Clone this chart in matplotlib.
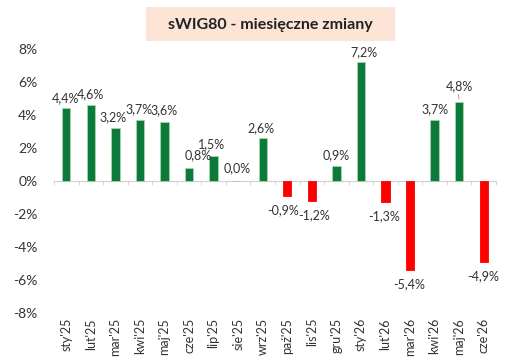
import numpy as np
import matplotlib
matplotlib.use("Agg")
import matplotlib.pyplot as plt
from matplotlib.patches import Rectangle
from matplotlib.ticker import FuncFormatter, FixedLocator

months = ["sty'25", "lut'25", "mar'25", "kwi'25", "maj'25", "cze'25", "lip'25",
          "sie'25", "wrz'25", "paź'25", "lis'25", "gru'25", "sty'26", "lut'26",
          "mar'26", "kwi'26", "maj'26", "cze'26"]
changes = [4.4, 4.6, 3.2, 3.7, 3.6, 0.8, 1.5, 0.0, 2.6, -0.9, -1.2, 0.9, 7.2,
           -1.3, -5.4, 3.7, 4.8, -4.9]
yticks = [-8, -6, -4, -2, 0, 2, 4, 6, 8]

# label nudges in pixels (dx, dy up) relative to the bar end
nudge = {0: (-1, 10), 2: (-2, 11), 3: (-1, 11), 5: (9, 13), 6: (-2, 12),
         7: (-1, 13), 8: (-2, 10), 9: (-4, -14), 10: (2, -14), 12: (3, 10),
         16: (0, 16)}

plt.rcParams['font.family'] = ['Lato', 'DejaVu Sans']

fig = plt.figure(figsize=(5.12, 3.62), dpi=100)
ax = fig.add_axes([54 / 512, 1 - 313 / 362, 442 / 512, 264 / 362])

x = np.arange(len(months))
cols = ['#0B7A3B' if v >= 0 else '#FF0000' for v in changes]
edges = ['#A9D6A9' if v >= 0 else '#FF0000' for v in changes]
ax.bar(x, changes, width=0.34, color=cols, edgecolor=edges, linewidth=0.6, zorder=3)

px = 0.72  # points per pixel
for i, v in enumerate(changes):
    txt = f"{v:.1f}%".replace('.', ',')
    default = (0, 11) if v >= 0 else (-1, -14)
    dx, dy = nudge.get(i, default)
    ax.annotate(txt, (x[i], v), xytext=(dx * px, dy * px), textcoords='offset points',
                ha='center', va='center', fontsize=9, color='#333333', zorder=4)
# leader line for maj'26
ax.annotate('', (x[16], changes[16]), xytext=(-1 * px, 10 * px), textcoords='offset points',
            arrowprops=dict(arrowstyle='-', color='#A6A6A6', lw=0.7))

ax.set_xlim(-0.5, len(months) - 0.5)
ax.set_ylim(-8, 8)
ax.set_yticks(yticks)
ax.yaxis.set_major_formatter(FuncFormatter(lambda v, p: f"{v:.0f}%"))
ax.tick_params(axis='y', length=0, pad=12, labelsize=10, labelcolor='#333333')

ax.spines['bottom'].set_position(('data', 0))
ax.spines['bottom'].set_color('#D0D0D0')
for s in ['top', 'right', 'left']:
    ax.spines[s].set_visible(False)
ax.set_xticks(x)
ax.set_xticklabels(months, rotation=90, fontsize=9, color='#333333')
ax.xaxis.set_minor_locator(FixedLocator(np.arange(-0.5, len(months), 1.0)))
ax.tick_params(axis='x', which='major', length=0, pad=137 * px)
ax.tick_params(axis='x', which='minor', length=4 * px, color='#D0D0D0', direction='out')

fig.patches.append(Rectangle((146 / 512, 1 - 41 / 362), 249 / 512, 34 / 362,
                             transform=fig.transFigure, facecolor='#FCE4D6',
                             edgecolor='none', zorder=0))
fig.text(270 / 512, 1 - 25 / 362, "sWIG80 - miesięczne zmiany", ha='center', va='center',
         fontsize=11.5, fontweight='bold', color='#222222')

fig.savefig('out.png', dpi=100, facecolor='white')
